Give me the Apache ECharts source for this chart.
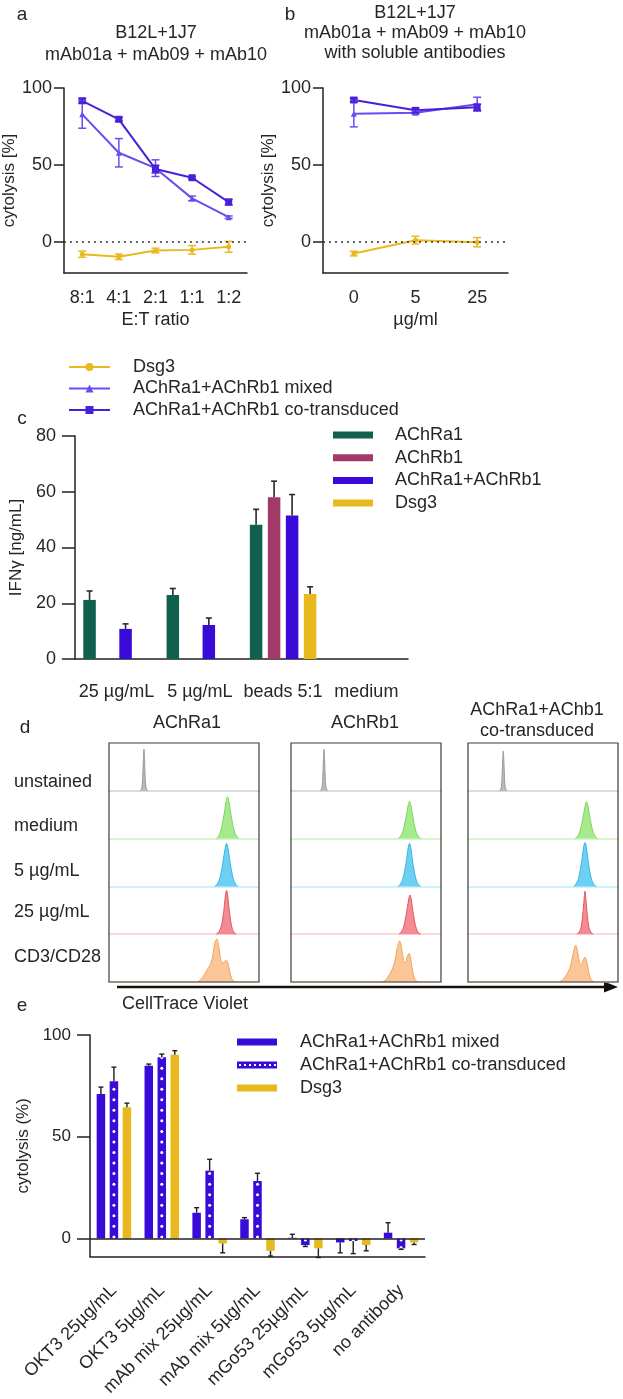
<!DOCTYPE html>
<html lang="en">
<head>
<meta charset="UTF-8">
<title>cytolysis / IFNγ / CellTrace</title>
<script src="https://cdn.jsdelivr.net/npm/echarts@6/dist/echarts.min.js"></script>
<style>
  html, body { margin: 0; padding: 0; background: #fff; }
  #main { width: 623px; height: 1399px; }
</style>
</head>
<body>
<div id="main"></div>
<script type="text/javascript">
// ---------- a: cytolysis vs E:T ratio
var aCategories = ['8:1', '4:1', '2:1', '1:1', '1:2'];
var aDsg3 = [-7.8, -9.5, -5.4, -5.0, -3.0];
var aDsg3Err = [2.0, 1.8, 1.5, 2.8, 3.5];
var aMixed = [82.9, 58.0, 48.0, 28.4, 16.2];
var aMixedErr = [9.0, 9.2, 5.4, 1.5, 0.8];
var aCo = [91.7, 79.7, 47.4, 41.8, 26.0];
var aCoErr = [1.5, 1.2, 2.5, 0.8, 1.8];

// ---------- b: cytolysis with soluble antibodies
var bCategories = ['0', '5', '25'];
var bDsg3 = [-7.4, 1.3, 0.0];
var bDsg3Err = [1.5, 2.5, 3.0];
var bMixed = [83.3, 84.0, 89.5];
var bMixedErr = [8.5, 1.0, 4.5];
var bCo = [92.2, 85.5, 87.5];
var bCoErr = [1.2, 1.5, 2.0];
var abTicks = [0, 50, 100];

// ---------- c: IFNγ
var cCategories = ['25 µg/mL', '5 µg/mL', 'beads 5:1', 'medium'];
var cAChRa1 = [21.2, 23.0, 48.2, '-'];
var cAChRa1Err = [3.2, 2.3, 5.5, 0];
var cAChRb1 = ['-', '-', 58.0, '-'];
var cAChRb1Err = [0, 0, 5.8, 0];
var cBoth = [10.8, 12.2, 51.5, '-'];
var cBothErr = [1.8, 2.5, 7.5, 0];
var cDsg3 = ['-', '-', 23.3, '-'];
var cDsg3Err = [0, 0, 2.6, 0];

// ---------- d: CellTrace Violet histograms, [position %, relative height]
var dBoxTitles = ['AChRa1', 'AChRb1', 'AChRa1+AChb1\nco-transduced'];
var dRowLabels = ['unstained', 'medium', '5 µg/mL', '25 µg/mL', 'CD3/CD28'];
var dAChRa1 = [
  [[21,0],[22,0.08],[22.5,0.3],[22.9,0.65],[23.3,0.875],[23.7,0.65],[24.1,0.3],[24.6,0.08],[25.6,0]],
  [[71.5,0],[73,0.05],[74.5,0.16],[76,0.38],[77.2,0.6],[78.2,0.8],[79,0.875],[79.8,0.8],[80.8,0.6],[82,0.38],[83.5,0.16],[85,0.05],[86.5,0]],
  [[70.5,0],[72.2,0.05],[73.8,0.16],[75.3,0.38],[76.5,0.62],[77.6,0.82],[78.4,0.9],[79.2,0.82],[80.3,0.6],[81.5,0.36],[83,0.14],[84.5,0.04],[86,0]],
  [[71.5,0],[73.2,0.05],[74.7,0.15],[76,0.36],[77,0.62],[77.8,0.85],[78.4,0.92],[79,0.84],[79.9,0.58],[81,0.3],[82.3,0.1],[83.8,0.02],[85,0]],
  [[59,0],[61.5,0.06],[63.5,0.15],[65.5,0.26],[67.5,0.36],[69,0.52],[70.4,0.8],[71.8,0.9],[73.1,0.76],[74.3,0.5],[75.5,0.4],[76.8,0.42],[78.2,0.46],[79.4,0.38],[80.6,0.2],[82,0.06],[83.8,0]]
];
var dAChRb1 = [
  [[19.7,0],[20.7,0.08],[21.2,0.3],[21.6,0.65],[22,0.87],[22.4,0.65],[22.8,0.3],[23.3,0.08],[24.3,0]],
  [[71.5,0],[73,0.05],[74.5,0.14],[76,0.34],[77.2,0.54],[78.2,0.71],[79,0.78],[79.8,0.71],[80.8,0.54],[82,0.32],[83.5,0.13],[85,0.04],[86.5,0]],
  [[71.5,0],[73,0.05],[74.5,0.15],[76,0.36],[77.2,0.6],[78.2,0.82],[79,0.9],[79.8,0.82],[80.8,0.58],[82,0.34],[83.5,0.13],[85,0.04],[86.5,0]],
  [[72,0],[73.5,0.05],[75,0.14],[76.4,0.34],[77.6,0.56],[78.6,0.75],[79.3,0.82],[80,0.75],[81,0.54],[82.2,0.3],[83.6,0.11],[85,0.03],[86.5,0]],
  [[61,0],[63.5,0.06],[65.5,0.15],[67.5,0.27],[69.3,0.45],[70.9,0.72],[72.4,0.86],[73.8,0.7],[75,0.45],[76.1,0.4],[77.4,0.52],[78.7,0.6],[79.9,0.46],[81.1,0.22],[82.6,0.06],[84.5,0]]
];
var dCoTrans = [
  [[21.2,0],[22.2,0.08],[22.7,0.3],[23.1,0.62],[23.5,0.83],[23.9,0.62],[24.3,0.3],[24.8,0.08],[25.8,0]],
  [[71.5,0],[73,0.05],[74.5,0.14],[76,0.33],[77.2,0.53],[78.2,0.7],[79,0.77],[79.8,0.7],[80.8,0.53],[82,0.32],[83.5,0.13],[85,0.04],[86.5,0]],
  [[70.5,0],[72,0.05],[73.5,0.15],[75,0.37],[76.2,0.62],[77.2,0.84],[78,0.92],[78.8,0.84],[79.8,0.6],[81,0.35],[82.5,0.13],[84,0.04],[85.5,0]],
  [[72.5,0],[74,0.04],[75.3,0.13],[76.3,0.34],[77.2,0.65],[78,0.9],[78.8,0.65],[79.7,0.34],[80.7,0.13],[82,0.04],[83.5,0]],
  [[61,0],[63.5,0.06],[65.5,0.14],[67.5,0.26],[69,0.42],[70.5,0.66],[71.8,0.77],[73.1,0.62],[74.4,0.4],[75.6,0.36],[76.8,0.46],[78,0.52],[79.2,0.42],[80.5,0.2],[82,0.05],[84,0]]
];

// ---------- e: cytolysis per antibody
var eCategories = ['OKT3 25µg/mL', 'OKT3 5µg/mL', 'mAb mix 25µg/mL', 'mAb mix 5µg/mL',
                   'mGo53 25µg/mL', 'mGo53 5µg/mL', 'no antibody'];
var eMixed = [71.0, 84.9, 12.6, 9.4, 0.3, -2.0, 2.8];
var eMixedErr = [3.4, 0.8, 2.5, 0.8, 1.7, 5.1, 4.9];
var eCo = [77.2, 89.1, 33.3, 28.2, -3.3, -1.3, -4.9];
var eCoErr = [7.0, 1.5, 5.6, 3.8, 0.7, 6.2, 0.5];
var eDsg3 = [64.5, 90.3, -2.5, -6.1, -4.9, -3.3, -2.0];
var eDsg3Err = [2.0, 2.0, 4.6, 2.6, 4.5, 2.8, 1.0];

// ---------- styling
var FONT = '"Liberation Sans", Arial, sans-serif';
var TXT = '#262626';
var AX = '#222';
var YEL = '#e8b91f';
var VIO_MIX = '#6a4cf0';
var VIO_CO = '#4a1fd9';
var BLUE = '#3a0bd8';
var GREEN = '#11604d';
var MAROON = '#a13a68';

var dFill = ['#b3b3b3', '#9de882', '#5dcbf2', '#f27e86', '#f9c08c'];
var dLine = ['#9a9a9a', '#7ad85c', '#35b6e6', '#e5565f', '#f2a35a'];
var dBase = ['#cfcfcf', '#cdf2c0', '#bfeefb', '#f9cdd0', '#f8d6b0'];
var dBoxLeft = [109, 291, 468];
var dBoxTop = 743, dBoxW = 150, dRowH = 47.8;

var cBarW = 12.5, cBarGap = 0.44;
var eBarW = 8.5, eBarGap = 0.53;

function txt(size) {
  return { color: TXT, fontSize: size || 18, fontFamily: FONT };
}

// error whiskers drawn through the axes; both = whisker both ways, else away from zero
function errorBars(idx, values, errs, color, offset, cap, both, width) {
  var data = [];
  values.forEach(function (v, i) {
    if (typeof v === 'number') data.push([i, v, errs[i]]);
  });
  return {
    type: 'custom', name: 'err' + idx + color + offset, xAxisIndex: idx, yAxisIndex: idx,
    data: data, silent: true, z: 4,
    renderItem: function (params, api) {
      var i = api.value(0), v = api.value(1), e = api.value(2);
      var hi = both ? v + e : (v >= 0 ? v + e : v - e);
      var lo = both ? v - e : v;
      var p1 = api.coord([i, hi]);
      var p0 = api.coord([i, lo]);
      var x = p1[0] + offset;
      var st = { stroke: color, lineWidth: width || 1.5 };
      var kids = [
        { type: 'line', shape: { x1: x, y1: p0[1], x2: x, y2: p1[1] }, style: st },
        { type: 'line', shape: { x1: x - cap / 2, y1: p1[1], x2: x + cap / 2, y2: p1[1] }, style: st }
      ];
      if (both) kids.push({ type: 'line', shape: { x1: x - cap / 2, y1: p0[1], x2: x + cap / 2, y2: p0[1] }, style: st });
      return { type: 'group', children: kids };
    }
  };
}

function lineSeries(idx, name, values, color, symbol, size) {
  return {
    type: 'line', name: name, xAxisIndex: idx, yAxisIndex: idx, data: values,
    symbol: symbol, symbolSize: size, lineStyle: { color: color, width: 2 },
    itemStyle: { color: color }, z: 3
  };
}

var grid = [
  { left: 63, top: 88, width: 184, height: 185 },
  { left: 323, top: 88, width: 185, height: 185 },
  { left: 73, top: 436, width: 335, height: 223 },
  { left: 90, top: 1035, width: 335, height: 222 }
];

var axisLineStyle = { color: AX, width: 1.5 };

var xAxis = [
  { type: 'category', gridIndex: 0, data: aCategories,
    axisLine: { onZero: false, lineStyle: axisLineStyle },
    axisTick: { alignWithLabel: true, length: 10, lineStyle: axisLineStyle },
    axisLabel: Object.assign(txt(18), { margin: 16, interval: 0 }),
    name: 'E:T ratio', nameLocation: 'middle', nameGap: 38, nameTextStyle: txt(18) },
  { type: 'category', gridIndex: 1, data: bCategories,
    axisLine: { onZero: false, lineStyle: axisLineStyle },
    axisTick: { alignWithLabel: true, length: 10, lineStyle: axisLineStyle },
    axisLabel: Object.assign(txt(18), { margin: 16, interval: 0 }),
    name: 'µg/ml', nameLocation: 'middle', nameGap: 38, nameTextStyle: txt(18) },
  { type: 'category', gridIndex: 2, data: cCategories,
    axisLine: { onZero: false, lineStyle: axisLineStyle },
    axisTick: { alignWithLabel: true, length: 15, interval: 0, lineStyle: axisLineStyle },
    axisLabel: Object.assign(txt(18), { margin: 24, interval: 0, hideOverlap: false }) },
  { type: 'category', gridIndex: 3, data: eCategories,
    axisLine: { onZero: false, lineStyle: axisLineStyle },
    axisTick: { alignWithLabel: true, length: 15, interval: 0, lineStyle: axisLineStyle },
    axisLabel: Object.assign(txt(18), { margin: 31, rotate: 45, interval: 0 }) }
];

var yAxis = [
  { type: 'value', gridIndex: 0, min: -20, max: 100,
    axisLine: { show: true, lineStyle: axisLineStyle },
    axisTick: { show: true, length: 10, customValues: abTicks, lineStyle: axisLineStyle },
    axisLabel: Object.assign(txt(18), { margin: 12, customValues: abTicks }),
    splitLine: { show: false },
    name: 'cytolysis [%]', nameLocation: 'middle', nameGap: 21, nameTextStyle: txt(17) },
  { type: 'value', gridIndex: 1, min: -20, max: 100,
    axisLine: { show: true, lineStyle: axisLineStyle },
    axisTick: { show: true, length: 10, customValues: abTicks, lineStyle: axisLineStyle },
    axisLabel: Object.assign(txt(18), { margin: 12, customValues: abTicks }),
    splitLine: { show: false },
    name: 'cytolysis [%]', nameLocation: 'middle', nameGap: 42, nameTextStyle: txt(17) },
  { type: 'value', gridIndex: 2, min: 0, max: 80, interval: 20,
    axisLine: { show: true, lineStyle: axisLineStyle },
    axisTick: { show: true, length: 13, lineStyle: axisLineStyle },
    axisLabel: Object.assign(txt(18), { margin: 19 }),
    splitLine: { show: false },
    name: 'IFNγ [ng/mL]', nameLocation: 'middle', nameGap: 49, nameTextStyle: txt(17) },
  { type: 'value', gridIndex: 3, min: -9, max: 100,
    axisLine: { show: true, lineStyle: axisLineStyle },
    axisTick: { show: true, length: 13, customValues: abTicks, lineStyle: axisLineStyle },
    axisLabel: Object.assign(txt(17), { margin: 19, customValues: abTicks }),
    splitLine: { show: false },
    name: 'cytolysis (%)', nameLocation: 'middle', nameGap: 52, nameTextStyle: txt(17) }
];

var zeroDotted = {
  silent: true, symbol: 'none', label: { show: false },
  lineStyle: { color: '#333', type: [2, 4], width: 1.5 },
  data: [{ yAxis: 0 }]
};

var series = [];

// a
var sa = lineSeries(0, 'Dsg3', aDsg3, YEL, 'circle', 5);
sa.markLine = zeroDotted;
series.push(sa,
  lineSeries(0, 'AChRa1+AChRb1 mixed', aMixed, VIO_MIX, 'triangle', 6),
  lineSeries(0, 'AChRa1+AChRb1 co-transduced', aCo, VIO_CO, 'rect', 7),
  errorBars(0, aDsg3, aDsg3Err, YEL, 0, 8, true),
  errorBars(0, aMixed, aMixedErr, VIO_MIX, 0, 8, true),
  errorBars(0, aCo, aCoErr, VIO_CO, 0, 8, true));

// b
var sb = lineSeries(1, 'Dsg3', bDsg3, YEL, 'circle', 5);
sb.markLine = zeroDotted;
series.push(sb,
  lineSeries(1, 'AChRa1+AChRb1 mixed', bMixed, VIO_MIX, 'triangle', 6),
  lineSeries(1, 'AChRa1+AChRb1 co-transduced', bCo, VIO_CO, 'rect', 7),
  errorBars(1, bDsg3, bDsg3Err, YEL, 0, 8, true),
  errorBars(1, bMixed, bMixedErr, VIO_MIX, 0, 8, true),
  errorBars(1, bCo, bCoErr, VIO_CO, 0, 8, true));

// c
var cStep = cBarW * (1 + cBarGap);
[[cAChRa1, cAChRa1Err, GREEN, 'AChRa1'],
 [cAChRb1, cAChRb1Err, MAROON, 'AChRb1'],
 [cBoth, cBothErr, BLUE, 'AChRa1+AChRb1'],
 [cDsg3, cDsg3Err, YEL, 'Dsg3 ']].forEach(function (s, k) {
  series.push({ type: 'bar', name: s[3], xAxisIndex: 2, yAxisIndex: 2, data: s[0],
    barWidth: cBarW, barGap: (cBarGap * 100) + '%', itemStyle: { color: s[2] } });
  series.push(errorBars(2, s[0], s[1], '#2a2a2a', (k - 1.5) * cStep, 6, false, 1.6));
});

// e
var eStep = eBarW * (1 + eBarGap);
[[eMixed, eMixedErr, BLUE, 'AChRa1+AChRb1 mixed '],
 [eCo, eCoErr, BLUE, 'AChRa1+AChRb1 co-transduced '],
 [eDsg3, eDsg3Err, YEL, 'Dsg3  ']].forEach(function (s, k) {
  var bar = { type: 'bar', name: s[3], xAxisIndex: 3, yAxisIndex: 3, data: s[0],
    barWidth: eBarW, barGap: (eBarGap * 100) + '%', itemStyle: { color: s[2] } };
  if (k === 0) {
    bar.markLine = { silent: true, symbol: 'none', label: { show: false },
      lineStyle: { color: AX, type: 'solid', width: 1.5 }, data: [{ yAxis: 0 }] };
  }
  series.push(bar);
  series.push(errorBars(3, s[0], s[1], '#1e1e1e', (k - 1) * eStep, 5, false, 1.4));
});
// white dots inside the co-transduced bars
series.push({ type: 'pictorialBar', name: 'co-dots', xAxisIndex: 3, yAxisIndex: 3, data: eCo,
  symbol: 'circle', symbolSize: [3, 3], symbolRepeat: true, symbolMargin: 3.85, symbolClip: true,
  itemStyle: { color: '#ffffff' }, silent: true, z: 3 });

// d: one small grid per histogram row
var dSets = [dAChRa1, dAChRb1, dCoTrans];
dSets.forEach(function (box, b) {
  box.forEach(function (pts, r) {
    var g = grid.length;
    grid.push({ left: dBoxLeft[b], top: dBoxTop + r * dRowH, width: dBoxW, height: dRowH });
    xAxis.push({ type: 'value', gridIndex: g, min: 0, max: 100,
      axisLine: { show: true, onZero: false, lineStyle: { color: dBase[r], width: 1.5 } },
      axisTick: { show: false }, axisLabel: { show: false }, splitLine: { show: false } });
    yAxis.push({ type: 'value', gridIndex: g, min: 0, max: 1, show: false, splitLine: { show: false } });
    series.push({ type: 'line', name: 'd' + b + r, xAxisIndex: g, yAxisIndex: g, data: pts,
      smooth: 0.35, symbol: 'none', silent: true,
      lineStyle: { color: dLine[r], width: 1 },
      areaStyle: { color: dFill[r], opacity: 0.9 } });
  });
});

// co-transduced legend icon: bar with small white gaps
var dotIcon = 'path://M0 0H40V7H0Z';
for (var h = 2; h < 40; h += 5) {
  dotIcon += ' M' + h + ' 2.5V4.5H' + (h + 2) + 'V2.5Z';
}

var legend = [
  { data: ['Dsg3', 'AChRa1+AChRb1 mixed', 'AChRa1+AChRb1 co-transduced'],
    orient: 'vertical', left: 68, top: 358, padding: 0, itemGap: 3.5,
    itemWidth: 41, itemHeight: 10, selectedMode: false,
    textStyle: Object.assign(txt(18), { padding: [0, 0, 0, 18], lineHeight: 18 }) },
  { data: ['AChRa1', 'AChRb1', 'AChRa1+AChRb1', 'Dsg3 '],
    orient: 'vertical', left: 333, top: 426, padding: 0, itemGap: 4.7,
    itemWidth: 40, itemHeight: 7, icon: 'rect', selectedMode: false,
    textStyle: Object.assign(txt(18), { padding: [0, 0, 0, 17], lineHeight: 18 }) },
  { data: ['AChRa1+AChRb1 mixed ', { name: 'AChRa1+AChRb1 co-transduced ', icon: dotIcon }, 'Dsg3  '],
    orient: 'vertical', left: 237, top: 1033, padding: 0, itemGap: 5,
    itemWidth: 40, itemHeight: 7, icon: 'rect', selectedMode: false,
    textStyle: Object.assign(txt(18), { padding: [0, 0, 0, 18], lineHeight: 18 }) }
];

function label(text, x, y, opts) {
  opts = opts || {};
  return { type: 'text', x: x, y: y, silent: true,
    style: { text: text, fill: TXT, font: (opts.size || 18) + 'px ' + FONT,
      align: opts.align || 'center', verticalAlign: 'middle', lineHeight: opts.lh || 21 } };
}

var graphic = [
  label('a', 22, 15, { size: 19 }), label('b', 290, 15, { size: 19 }),
  label('c', 22, 419, { size: 19 }), label('d', 25, 728, { size: 19 }),
  label('e', 22, 1006, { size: 19 }),
  label('B12L+1J7\nmAb01a + mAb09 + mAb10', 156, 44, { lh: 22 }),
  label('B12L+1J7\nmAb01a + mAb09 + mAb10\nwith soluble antibodies', 415, 33, { lh: 20 }),
  label('CellTrace Violet', 185, 1004)
];
var dTitleX = [187, 365, 537], dTitleY = [723, 723, 721];
dBoxTitles.forEach(function (t, b) {
  graphic.push(label(t, dTitleX[b], dTitleY[b]));
  graphic.push({ type: 'rect', silent: true, z: 10,
    shape: { x: dBoxLeft[b], y: dBoxTop, width: dBoxW, height: dRowH * 5 },
    style: { fill: 'none', stroke: '#3c3c3c', lineWidth: 1.2 } });
});
var dRowY = [782, 826, 871, 912, 957];
dRowLabels.forEach(function (t, r) {
  graphic.push(label(t, 14, dRowY[r], { align: 'left' }));
});
graphic.push({ type: 'line', silent: true, shape: { x1: 117, y1: 987, x2: 608, y2: 987 },
  style: { stroke: '#111', lineWidth: 2.5 } });
graphic.push({ type: 'polygon', silent: true, shape: { points: [[604, 981.5], [618, 987], [604, 992.5]] },
  style: { fill: '#111' } });

var myChart = echarts.init(document.getElementById('main'), null, { renderer: 'canvas' });
myChart.setOption({
  backgroundColor: '#fff',
  animation: false,
  textStyle: { fontFamily: FONT },
  grid: grid,
  xAxis: xAxis,
  yAxis: yAxis,
  legend: legend,
  graphic: graphic,
  series: series
});
</script>
</body>
</html>
